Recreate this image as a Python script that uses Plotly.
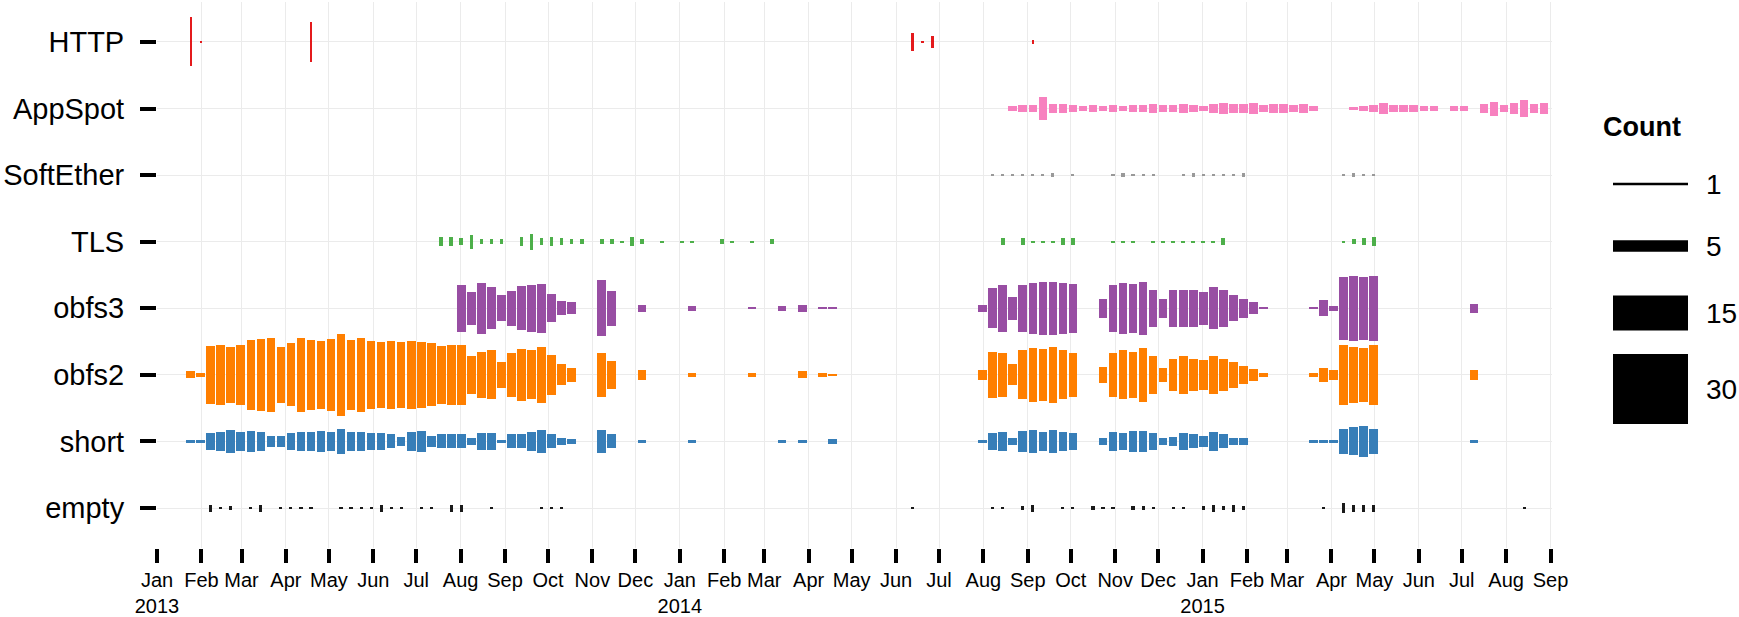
import plotly.graph_objects as go
import pandas as pd

# ---------------- data (weekly counts) ----------------
rows = ["empty", "short", "obfs2", "obfs3", "TLS", "SoftEther", "AppSpot", "HTTP"]
colors = {"HTTP": "#E41A1C", "AppSpot": "#F781BF", "SoftEther": "#999999", "TLS": "#4DAF4A",
          "obfs3": "#984EA3", "obfs2": "#FF7F00", "short": "#377EB8", "empty": "#1A1A1A"}

week0 = "2013-01-07"   # first week start; week k starts week0 + 7k days

# runs: (first week index, [counts for consecutive weeks])
HTTP_runs = [(2, [21, 1]), (14, [17]), (74, [8, 1, 5]), (86, [2])]
AppSpot_runs = [(84, [2, 3, 3, 10, 4, 4, 3, 2, 3, 2, 3, 2, 3, 3, 4, 3, 3, 4, 3, 2, 4, 5, 4, 4, 5, 3, 4, 4, 3, 4, 2]),
                (118, [1, 2, 3, 5, 3, 3, 3, 2, 2]), (128, [2, 2]), (131, [4, 6, 3, 5, 7, 4, 5])]
SoftEther_runs = [(82, [1, 1, 1, 1, 1, 1, 2, 0, 1]), (94, [1, 2, 1, 1, 1]),
                  (101, [1, 2, 1, 1, 1, 1, 2]), (117, [1, 2, 1, 1])]
TLS_runs = [(27, [4, 4, 3, 6, 2, 2, 2, 0, 4, 7, 3, 4, 3, 2, 2, 0, 2, 2, 1, 4, 2, 0, 1, 0, 1, 1, 0, 0, 2, 1, 0, 1, 0, 2]),
            (83, [3, 0, 3, 1, 1, 1, 3, 3]), (94, [1, 1, 1, 0, 1, 1, 1, 1, 1, 1, 1, 3]), (117, [1, 2, 3, 4])]
obfs3_runs = [(29, [20, 14, 22, 18, 11, 15, 19, 20, 21, 12, 6, 5]), (43, [24, 15]), (47, [3]), (52, [2]),
              (58, [1]), (61, [2, 0, 3]), (65, [1, 1]),
              (81, [3, 17, 20, 10, 20, 22, 23, 23, 22, 21]),
              (93, [8, 20, 22, 21, 23, 16, 8, 16, 16, 16, 14, 18, 16, 11, 8, 5, 1]),
              (114, [1, 7, 2, 27, 28, 27, 28]), (130, [4])]
obfs2_runs = [(2, [3, 2, 25, 26, 24, 26, 30, 31, 32, 24, 27, 32, 30, 29, 31, 35, 30, 32, 29, 28,
                   29, 28, 29, 28, 27, 25, 26, 26, 16, 20, 21, 11, 19, 22, 21, 24, 17, 9, 6]),
              (43, [19, 12]), (47, [4]), (52, [2]), (58, [2]), (63, [3]), (65, [2, 1]),
              (81, [4, 20, 19, 9, 21, 23, 22, 24, 21, 19]),
              (93, [7, 19, 21, 20, 23, 16, 6, 14, 16, 14, 13, 16, 14, 11, 8, 5, 2]),
              (114, [2, 6, 4, 26, 24, 23, 26]), (130, [4])]
short_runs = [(2, [1, 1, 7, 8, 10, 8, 9, 8, 5, 5, 7, 8, 8, 9, 8, 11, 8, 8, 7, 7,
                   6, 4, 8, 9, 5, 6, 6, 6, 3, 7, 7, 1, 6, 6, 8, 10, 6, 3, 2]),
              (43, [10, 6]), (47, [1]), (52, [1]), (61, [1, 0, 1]), (66, [2]),
              (81, [1, 7, 8, 3, 9, 10, 8, 10, 8, 7]),
              (93, [3, 8, 7, 9, 9, 7, 3, 4, 7, 6, 5, 8, 6, 3, 3]),
              (114, [1, 1, 1, 11, 12, 13, 11]), (130, [1])]
empty_runs = [(4, [3, 1, 2, 0, 1, 3, 0, 1, 1, 1, 1, 0, 0, 1, 1, 1, 1, 3, 1, 1, 0, 1, 1, 0, 3, 3]),
              (32, [1]), (37, [1, 1, 1]), (74, [1]),
              (82, [1, 1, 0, 2, 3, 0, 0, 1, 1, 0, 2, 1, 1, 0, 2, 2, 1, 0, 1, 1, 0, 2, 3, 2, 3, 2]),
              (115, [1, 0, 4, 3, 3, 3]), (135, [1])]

series = {"HTTP": HTTP_runs, "AppSpot": AppSpot_runs, "SoftEther": SoftEther_runs, "TLS": TLS_runs,
          "obfs3": obfs3_runs, "obfs2": obfs2_runs, "short": short_runs, "empty": empty_runs}

legend_counts = [1, 5, 15, 30]
month_ticks = pd.date_range("2013-01-01", "2015-09-01", freq="MS")

# ---------------- styling / layout constants ----------------
W, H = 1739, 617
ML, MR, MT, MB = 157, 187, 2, 69
Y_RANGE = [-0.6, 7.6]
PX_PER_ROW = (H - MT - MB) / (Y_RANGE[1] - Y_RANGE[0])
PX_PER_COUNT = 2.33          # vertical extent of a mark per unit count
DAY_MS = 86400000
bar_days = {"HTTP": 1.6, "AppSpot": 6, "SoftEther": 2.2, "TLS": 2.6,
            "obfs3": 6, "obfs2": 6, "short": 6, "empty": 2.2}
FONT = "Liberation Sans, Arial, Helvetica, sans-serif"

def count_to_units(c):
    return c * PX_PER_COUNT / PX_PER_ROW

fig = go.Figure()
start = pd.Timestamp(week0)
for yi, name in enumerate(rows):
    xs, bases, hs = [], [], []
    for first, counts in series[name]:
        for i, c in enumerate(counts):
            if c <= 0:
                continue
            k = first + i
            xs.append(start + pd.Timedelta(days=7 * k + 3.5))
            h = count_to_units(c)
            bases.append(yi - h / 2)
            hs.append(h)
    fig.add_trace(go.Bar(x=xs, y=hs, base=bases, width=bar_days[name] * DAY_MS,
                         marker=dict(color=colors[name], line=dict(width=0)),
                         showlegend=False, hoverinfo="skip"))

ticktext = [(d.strftime("%b") + ("<br>" + d.strftime("%Y") if d.month == 1 else "")) for d in month_ticks]

# ---------------- legend (drawn with the same count scale) ----------------
plot_w = W - ML - MR
def px_to_paper_x(px):
    return (px - ML) / plot_w
def px_to_y(py):
    return Y_RANGE[1] - (py - MT) / PX_PER_ROW

legend_centers_px = [184, 246, 313, 389]
shapes = []
annotations = []
for c, cy in zip(legend_counts, legend_centers_px):
    yc = px_to_y(cy)
    h = count_to_units(c)
    shapes.append(dict(type="rect", xref="paper", yref="y",
                       x0=px_to_paper_x(1613), x1=px_to_paper_x(1688),
                       y0=yc - h / 2, y1=yc + h / 2,
                       fillcolor="black", line=dict(width=0), layer="above"))
    annotations.append(dict(xref="paper", yref="y", x=px_to_paper_x(1704), y=yc,
                            text=str(c), showarrow=False, xanchor="left", yanchor="middle",
                            font=dict(family=FONT, size=28, color="black")))
annotations.append(dict(xref="paper", yref="y", x=px_to_paper_x(1601), y=px_to_y(127),
                        text="<b>Count</b>", showarrow=False, xanchor="left", yanchor="middle",
                        font=dict(family=FONT, size=27, color="black")))

fig.update_layout(
    width=W, height=H,
    margin=dict(l=ML, r=MR, t=MT, b=MB, autoexpand=False),
    paper_bgcolor="white", plot_bgcolor="white",
    barmode="overlay", bargap=0,
    shapes=shapes, annotations=annotations,
    xaxis=dict(type="date", range=["2013-01-01", "2015-09-02"],
               tickmode="array", tickvals=list(month_ticks), ticktext=ticktext,
               tickangle=0, automargin=False,
               ticks="outside", ticklen=14, tickwidth=4, tickcolor="black",
               showgrid=True, gridcolor="#EBEBEB", gridwidth=1.2,
               showline=False, zeroline=False,
               tickfont=dict(family=FONT, size=20, color="black")),
    yaxis=dict(range=Y_RANGE, tickmode="array", tickvals=list(range(len(rows))), ticktext=rows,
               automargin=False,
               ticks="outside", ticklen=16, tickwidth=4, tickcolor="black",
               ticklabelstandoff=10,
               showgrid=True, gridcolor="#EBEBEB", gridwidth=1.2,
               showline=False, zeroline=False,
               tickfont=dict(family=FONT, size=29, color="black")),
)

fig.write_html("out.html")
